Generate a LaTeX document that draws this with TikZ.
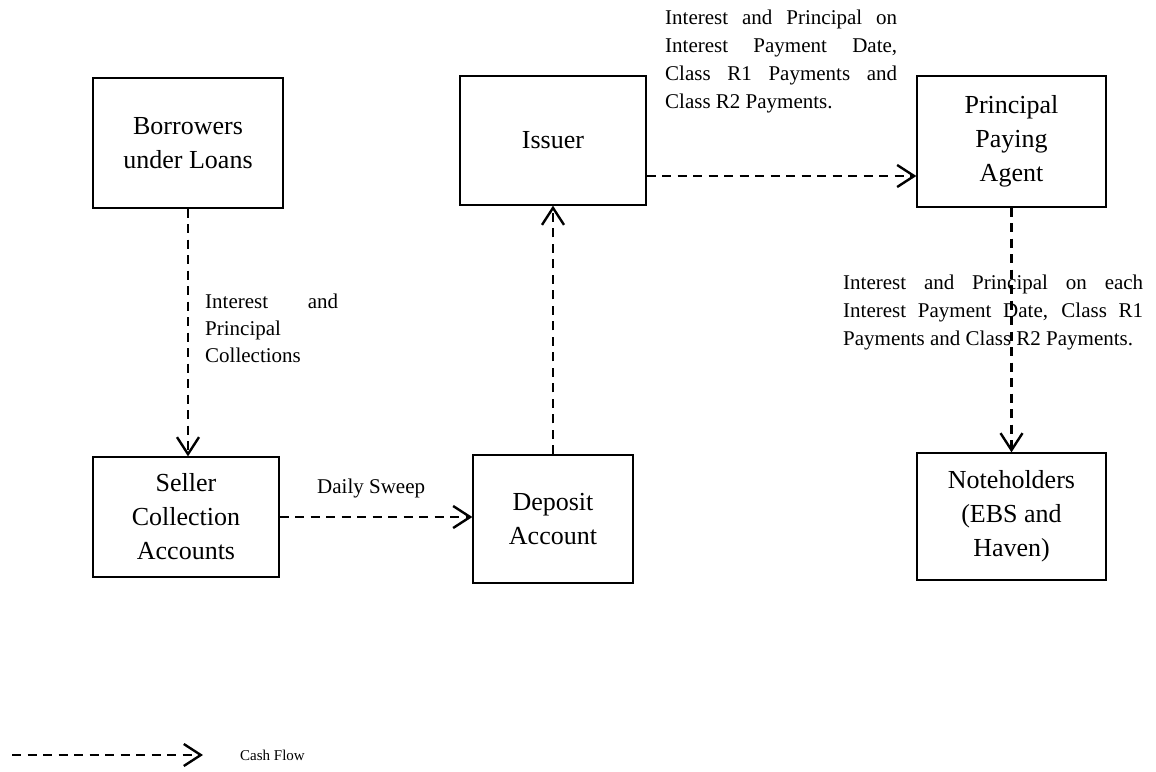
\documentclass[tikz,border=0pt]{standalone}
\usepackage{fontspec}
\setmainfont{Liberation Serif}
\usetikzlibrary{arrows.meta,calc}
\begin{document}
\begin{tikzpicture}[x=1pt,y=-1pt,
  boxnode/.style={draw,line width=1.3pt,align=center,inner sep=0pt,
    font=\fontsize{26}{34}\selectfont},
  flow/.style={line width=2.6pt,dash pattern=on 9pt off 6.5pt,
    -{Straight Barb[length=17pt,width=22pt,line width=2.4pt]}},
  lbl/.style={inner sep=0pt,anchor=base west,align=justify,
    font=\fontsize{21}{28}\selectfont}
]
\useasboundingbox (0,0) rectangle (1156,771);

\node[boxnode,minimum width=190pt,minimum height=130pt] (bor) at (188,143) {Borrowers\\under Loans};
\node[boxnode,minimum width=186pt,minimum height=129pt] (iss) at (553,140.5) {Issuer};
\node[boxnode,minimum width=189pt,minimum height=131pt] (ppa) at (1011.5,141.5) {Principal\\Paying\\Agent};
\node[boxnode,minimum width=186pt,minimum height=120pt] (sel) at (186,517) {Seller\\Collection\\Accounts};
\node[boxnode,minimum width=160pt,minimum height=128pt] (dep) at (553,519) {Deposit\\Account};
\node[boxnode,minimum width=189pt,minimum height=127pt] (note) at (1011.5,516.5) {Noteholders\\(EBS and\\Haven)};

\draw[flow] (bor.south) -- (bor.south |- sel.north);
\draw[flow] (sel.east) -- (sel.east -| dep.west);
\draw[flow] (dep.north) -- (iss.south);
\draw[flow] ([yshift=-35.5pt]iss.east) -- ([yshift=-35.5pt]iss.east -| ppa.west);
\draw[flow] (ppa.south) -- (note.north);

\node[lbl,text width=232pt] (l1) at (665,24) {Interest and Principal on\linebreak Interest Payment Date,\linebreak Class R1 Payments and\linebreak Class R2 Payments.};
\node[lbl,text width=300pt] (l2) at (843,289) {Interest and Principal on each\linebreak Interest Payment Date, Class R1\linebreak Payments and Class R2 Payments.};
\node[lbl,text width=133pt,font=\fontsize{21}{27}\selectfont] (l3) at (205,308) {Interest and\linebreak Principal\newline Collections};
\node[inner sep=0pt,anchor=base west,font=\fontsize{21}{27}\selectfont] (l4) at (317,493) {Daily Sweep};

\coordinate (lg1) at (12,755);
\coordinate (lg2) at (203,755);
\draw[flow] (lg1) -- (lg2);
\node[inner sep=0pt,anchor=west,font=\fontsize{15}{18}\selectfont] (lgt) at (240,755) {Cash Flow};
\end{tikzpicture}
\end{document}
